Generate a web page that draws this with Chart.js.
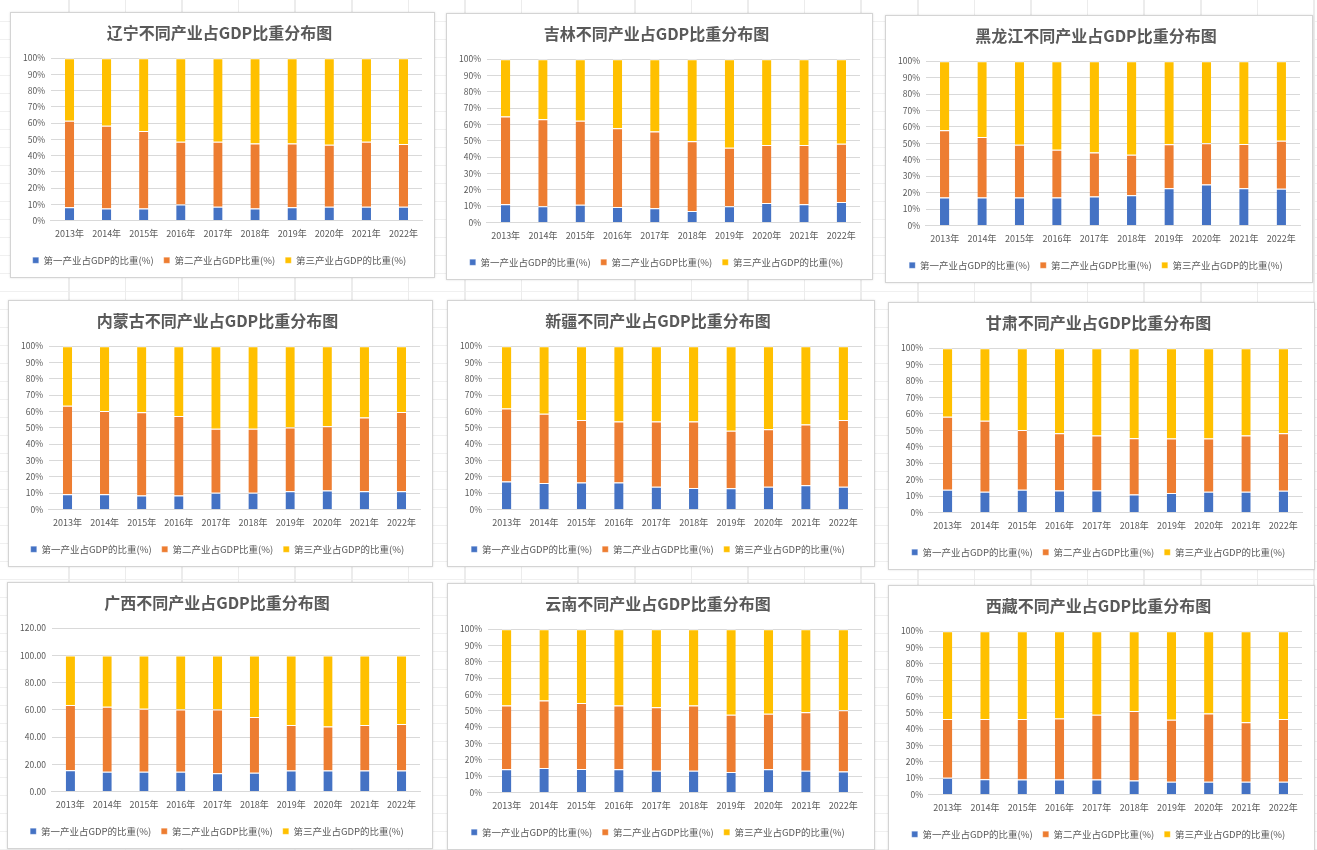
<!DOCTYPE html>
<html>
<head>
<meta charset="utf-8">
<script src="https://cdn.jsdelivr.net/npm/chart.js@4.4.1/dist/chart.umd.min.js"></script>
<style>
  html, body { margin: 0; padding: 0; }
  body {
    width: 1317px; height: 850px; overflow: hidden; position: relative;
    background-color: #fff;
    background-image:
      repeating-linear-gradient(to right, transparent 0, transparent 55px, #ececec 55px, #ececec 56.6px),
      repeating-linear-gradient(to bottom, transparent 0, transparent 17px, #f0f0f0 17px, #f0f0f0 18px);
    background-position: 13px 0, 0 4px;
  }
  .panel {
    position: absolute; background: #fff;
    border: 1px solid #d4d4d4; box-shadow: 0 0 2px rgba(0,0,0,0.12);
    box-sizing: border-box;
  }
</style>
</head>
<body>
<div class="panel" style="left:10px;top:12px;width:425px;height:266px"><canvas id="c1"></canvas></div>
<div class="panel" style="left:446px;top:13px;width:427px;height:267px"><canvas id="c2"></canvas></div>
<div class="panel" style="left:885px;top:15px;width:428px;height:268px"><canvas id="c3"></canvas></div>
<div class="panel" style="left:8px;top:300px;width:425px;height:267px"><canvas id="c4"></canvas></div>
<div class="panel" style="left:447px;top:300px;width:428px;height:267px"><canvas id="c5"></canvas></div>
<div class="panel" style="left:888px;top:302px;width:427px;height:268px"><canvas id="c6"></canvas></div>
<div class="panel" style="left:7px;top:582px;width:426px;height:267px"><canvas id="c7"></canvas></div>
<div class="panel" style="left:447px;top:583px;width:428px;height:267px"><canvas id="c8"></canvas></div>
<div class="panel" style="left:888px;top:585px;width:427px;height:267px"><canvas id="c9"></canvas></div>
<script>
var years = ['2013年','2014年','2015年','2016年','2017年','2018年','2019年','2020年','2021年','2022年'];
var seriesNames = ['第一产业占GDP的比重(%)', '第二产业占GDP比重(%)', '第三产业占GDP的比重(%)'];
var pctTicks = [0,10,20,30,40,50,60,70,80,90,100];
var guangxiTicks = [0,20,40,60,80,100,120];

// 辽宁
var liaoning1 = [8.2,7.4,7.4,9.9,8.5,7.4,8.2,8.5,8.5,8.5];
var liaoning2 = [53.2,51.0,47.7,38.6,40.0,40.0,39.2,38.1,40.0,38.7];
var liaoning3 = [38.6,41.6,44.9,51.5,51.5,52.6,52.6,53.4,51.5,52.8];
// 吉林
var jilin1 = [11.1,9.9,10.9,9.5,8.7,7.0,9.9,12.0,11.1,12.6];
var jilin2 = [53.8,53.4,51.4,48.2,47.0,42.7,35.9,35.4,36.3,35.6];
var jilin3 = [35.1,36.7,37.7,42.3,44.3,50.3,54.2,52.6,52.6,51.8];
// 黑龙江
var hlj1 = [17.0,17.0,17.0,17.0,17.6,18.4,22.7,25.0,22.7,22.3];
var hlj2 = [41.0,36.9,32.2,29.1,26.9,24.6,26.7,25.0,26.9,29.3];
var hlj3 = [42.0,46.1,50.8,53.9,55.5,57.0,50.6,50.0,50.4,48.4];
// 内蒙古
var nmg1 = [9.3,9.3,8.6,8.6,10.3,10.3,11.1,11.7,11.1,11.1];
var nmg2 = [54.3,51.0,50.9,48.6,39.1,39.1,39.1,39.3,45.3,48.6];
var nmg3 = [36.4,39.7,40.5,42.8,50.6,50.6,49.8,49.0,43.6,40.3];
// 新疆
var xj1 = [17.1,16.3,16.5,16.5,14.0,13.2,13.0,14.0,14.9,14.0];
var xj2 = [44.7,42.4,38.3,37.4,39.9,40.7,35.3,35.2,37.2,40.8];
var xj3 = [38.2,41.3,45.2,46.1,46.1,46.1,51.7,50.8,47.9,45.2];
// 甘肃
var gs1 = [13.8,12.6,13.8,13.4,13.4,11.0,11.8,12.6,12.6,13.2];
var gs2 = [44.5,43.2,36.4,34.9,33.5,34.2,33.2,32.4,34.3,35.1];
var gs3 = [41.7,44.2,49.8,51.7,53.1,54.8,55.0,55.0,53.1,51.7];
// 广西
var gx1 = [15.7,14.5,14.5,14.5,13.5,13.8,15.5,15.5,15.5,15.5];
var gx2 = [47.9,47.7,46.4,45.7,46.7,41.0,33.4,32.2,33.4,34.1];
var gx3 = [36.4,37.8,39.1,39.8,39.8,45.2,51.1,52.3,51.1,50.4];
// 云南
var yn1 = [14.2,15.0,14.4,14.2,13.3,13.3,12.5,14.2,13.3,12.9];
var yn2 = [39.0,41.3,40.4,39.0,38.9,39.9,35.1,34.1,35.8,37.4];
var yn3 = [46.8,43.7,45.2,46.8,47.8,46.8,52.4,51.7,50.9,49.7];
// 西藏
var xz1 = [10.2,9.4,9.2,9.2,9.2,8.6,7.8,7.8,7.8,7.8];
var xz2 = [36.1,36.9,37.1,37.3,39.6,42.6,37.9,41.8,36.5,38.5];
var xz3 = [53.7,53.7,53.7,53.5,51.2,48.8,54.3,50.4,55.7,53.7];

var colors = ['#4472C4', '#ED7D31', '#FFC000'];
var fontFamily = '"Noto Sans CJK SC", "Noto Sans", sans-serif';
var textColor = '#595959';

function makeChart(id, title, s1, s2, s3, ticks, fmt) {
  var data = [s1, s2, s3];
  var datasets = [];
  for (var i = 0; i < 3; i++) {
    datasets.push({
      label: seriesNames[i],
      data: data[i],
      backgroundColor: colors[i],
      borderColor: '#ffffff',
      borderWidth: {top: 1, left: 0, right: 0, bottom: 0},
      borderSkipped: false,
      categoryPercentage: 1.0,
      barPercentage: 0.25
    });
  }
  var top = ticks[ticks.length - 1];
  var step = ticks[1] - ticks[0];
  new Chart(document.getElementById(id), {
    type: 'bar',
    data: { labels: years, datasets: datasets },
    options: {
      responsive: true,
      maintainAspectRatio: false,
      animation: false,
      layout: { padding: { left: 6, right: 12, top: 2, bottom: 2 } },
      plugins: {
        title: {
          display: true,
          text: title,
          color: textColor,
          font: { family: fontFamily, size: 16, weight: 'bold' },
          padding: { top: 8, bottom: 16 }
        },
        legend: {
          position: 'bottom',
          // empty legend title just adds a gap above the legend row
          title: { display: true, text: '', font: { size: 1 }, padding: { top: 0, bottom: 5 } },
          labels: {
            boxWidth: 6, boxHeight: 6,
            color: textColor,
            padding: 10,
            font: { family: fontFamily, size: 9.5 }
          }
        },
        tooltip: { enabled: false }
      },
      scales: {
        x: {
          stacked: true,
          grid: { display: false },
          border: { color: '#d9d9d9' },
          ticks: { color: textColor, font: { family: fontFamily, size: 9 }, maxRotation: 0, autoSkip: false, padding: 0 }
        },
        y: {
          stacked: true,
          min: 0, max: top,
          border: { display: false },
          grid: { color: '#d9d9d9', drawTicks: false },
          ticks: {
            stepSize: step,
            color: textColor,
            padding: 6,
            font: { family: fontFamily, size: 8.5 },
            callback: fmt
          }
        }
      }
    }
  });
}

function pct(v) { return v + '%'; }
function dec(v) { return v.toFixed(2); }

makeChart('c1', '辽宁不同产业占GDP比重分布图', liaoning1, liaoning2, liaoning3, pctTicks, pct);
makeChart('c2', '吉林不同产业占GDP比重分布图', jilin1, jilin2, jilin3, pctTicks, pct);
makeChart('c3', '黑龙江不同产业占GDP比重分布图', hlj1, hlj2, hlj3, pctTicks, pct);
makeChart('c4', '内蒙古不同产业占GDP比重分布图', nmg1, nmg2, nmg3, pctTicks, pct);
makeChart('c5', '新疆不同产业占GDP比重分布图', xj1, xj2, xj3, pctTicks, pct);
makeChart('c6', '甘肃不同产业占GDP比重分布图', gs1, gs2, gs3, pctTicks, pct);
makeChart('c7', '广西不同产业占GDP比重分布图', gx1, gx2, gx3, guangxiTicks, dec);
makeChart('c8', '云南不同产业占GDP比重分布图', yn1, yn2, yn3, pctTicks, pct);
makeChart('c9', '西藏不同产业占GDP比重分布图', xz1, xz2, xz3, pctTicks, pct);
</script>
</body>
</html>
